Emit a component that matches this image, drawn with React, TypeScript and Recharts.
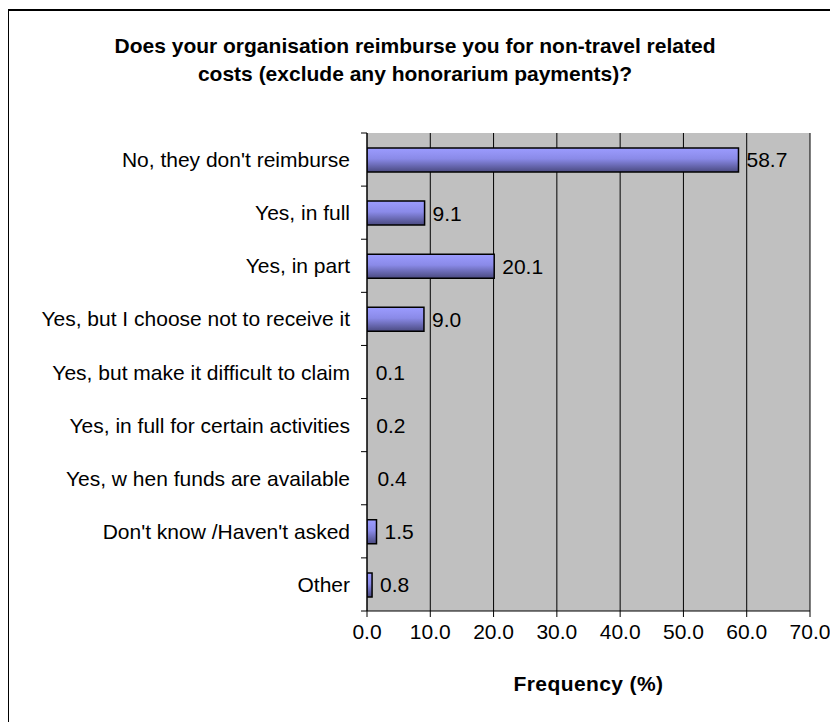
import React from "react";
import {
  BarChart,
  Bar,
  XAxis,
  YAxis,
  CartesianGrid,
  LabelList,
  Rectangle,
} from "recharts";

const categories = [
  "No, they don't reimburse",
  "Yes, in full",
  "Yes, in part",
  "Yes, but I choose not to receive it",
  "Yes, but make it difficult to claim",
  "Yes, in full for certain activities",
  "Yes, w hen funds are available",
  "Don't know /Haven't asked",
  "Other",
];
const frequency = [58.7, 9.1, 20.1, 9.0, 0.1, 0.2, 0.4, 1.5, 0.8];
const xTicks = [0, 10, 20, 30, 40, 50, 60, 70];
const titleLines = [
  "Does your organisation reimburse you for non-travel related",
  "costs (exclude any honorarium payments)?",
];
const xTitle = "Frequency (%)";

const data = categories.map((c, i) => ({ name: c, value: frequency[i] }));

const FONT = "Arial, 'Liberation Sans', sans-serif";

const YTick = (props: any) => {
  const { x, y, payload, index } = props;
  const half = payload && payload.offset ? payload.offset : 26.5;
  const axisX = x + 6 + 11;
  return (
    <g>
      {index === 0 && (
        <line x1={axisX - 6} x2={axisX} y1={y - half} y2={y - half} stroke="#000" />
      )}
      <line x1={axisX - 6} x2={axisX} y1={y + half} y2={y + half} stroke="#000" />
      <text
        x={x}
        y={y}
        textAnchor="end"
        dominantBaseline="central"
        fontSize={21}
        fontFamily={FONT}
        fill="#000"
      >
        {payload.value}
      </text>
    </g>
  );
};

const BarShape = (props: any) => {
  if (!props.width || props.width < 3) return <g />;
  return <Rectangle {...props} />;
};

export default function App() {
  return (
    <div
      style={{
        position: "relative",
        width: 838,
        height: 722,
        margin: "-8px 0 0 -8px",
        overflow: "hidden",
        background: "#fff",
      }}
    >
      <div
        style={{
          position: "absolute",
          left: 7,
          top: 9,
          width: 840,
          height: 720,
          border: "2px solid #000",
        }}
      />
      {titleLines.map((t, i) => (
        <div
          key={i}
          style={{
            position: "absolute",
            left: 0,
            width: 830,
            top: 33 + i * 28,
            textAlign: "center",
            fontFamily: FONT,
            fontWeight: "bold",
            fontSize: 21,
            lineHeight: "25px",
            whiteSpace: "nowrap",
          }}
        >
          {t}
        </div>
      ))}
      <div
        style={{
          position: "absolute",
          left: 367,
          width: 443,
          top: 671,
          textAlign: "center",
          fontFamily: FONT,
          fontWeight: "bold",
          fontSize: 21,
          lineHeight: "25px",
          letterSpacing: 0.4,
        }}
      >
        {xTitle}
      </div>
      <div style={{ position: "absolute", left: 0, top: 0 }}>
        <BarChart
          width={838}
          height={722}
          data={data}
          layout="vertical"
          margin={{ top: 133, right: 28, bottom: 81, left: 7 }}
          barSize={24}
        >
          <defs>
            <linearGradient id="barGrad" x1="0" y1="0" x2="0" y2="1">
              <stop offset="0%" stopColor="#9c9cff" />
              <stop offset="45%" stopColor="#8a8ae8" />
              <stop offset="100%" stopColor="#4a4a80" />
            </linearGradient>
          </defs>
          <CartesianGrid
            horizontal={false}
            stroke="#000"
            fill="#c0c0c0"
            fillOpacity={1}
          />
          <XAxis
            type="number"
            domain={[0, 70]}
            ticks={xTicks}
            interval={0}
            tickFormatter={(v: number) => v.toFixed(1)}
            tick={{ fontSize: 21, fontFamily: FONT, fill: "#000" }}
            tickSize={6}
            tickMargin={7}
            stroke="#000"
            height={30}
            allowDataOverflow
          />
          <YAxis
            type="category"
            dataKey="name"
            width={360}
            tickLine={false}
            tick={<YTick />}
            tickMargin={11}
            tickSize={6}
            stroke="#000"
            interval={0}
          />
          <Bar
            dataKey="value"
            fill="url(#barGrad)"
            stroke="#000"
            strokeWidth={1.5}
            shape={<BarShape />}
            isAnimationActive={false}
          >
            <LabelList
              dataKey="value"
              position="right"
              offset={8}
              formatter={(v: any) => Number(v).toFixed(1)}
              style={{ fontSize: 21, fontFamily: FONT, fill: "#000" }}
            />
          </Bar>
        </BarChart>
      </div>
    </div>
  );
}
